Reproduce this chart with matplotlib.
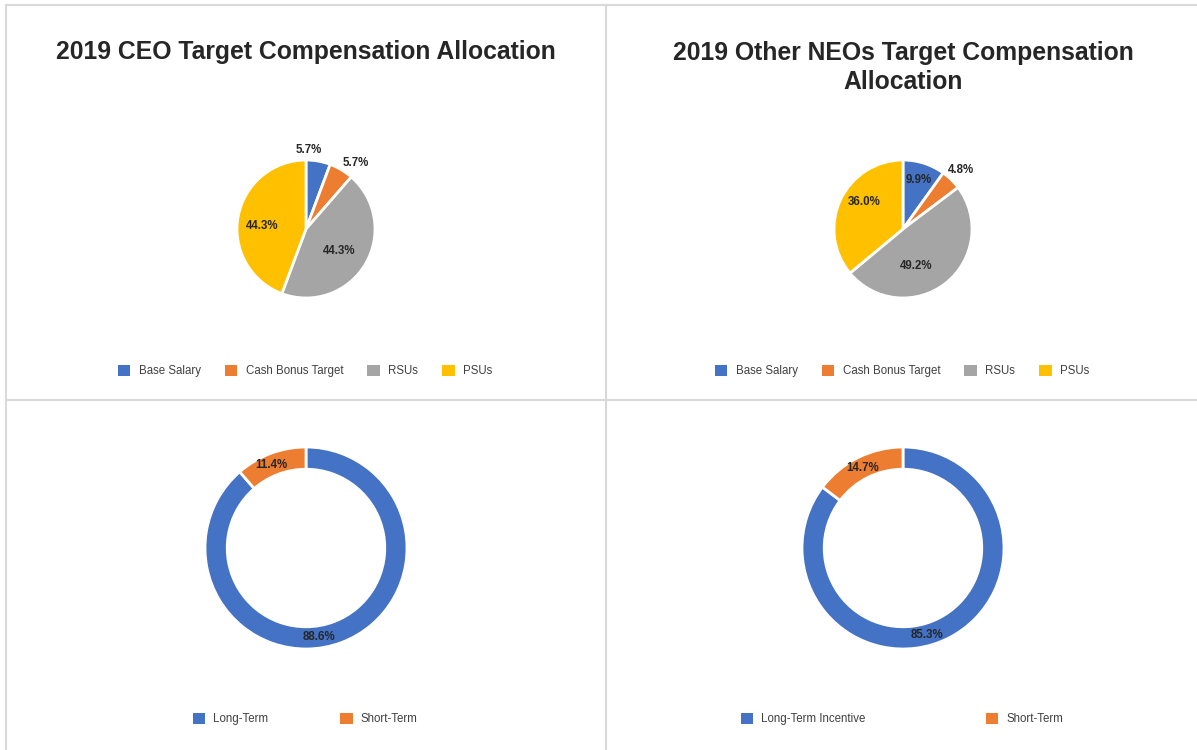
import matplotlib.pyplot as plt
import numpy as np
from matplotlib.patches import Patch
from matplotlib.lines import Line2D

plt.rcParams['font.family'] = ['Liberation Sans', 'DejaVu Sans']

# data
comp_labels = ["Base Salary", "Cash Bonus Target", "RSUs", "PSUs"]
ceo_comp = [5.7, 5.7, 44.3, 44.3]
neo_comp = [9.9, 4.8, 49.2, 36.0]
ceo_term_labels = ["Long-Term", "Short-Term"]
ceo_term = [88.6, 11.4]
neo_term_labels = ["Long-Term Incentive", "Short-Term"]
neo_term = [85.3, 14.7]

comp_colors = ["#4472C4", "#ED7D31", "#A5A5A5", "#FFC000"]
term_colors = ["#4472C4", "#ED7D31"]
text_color = "#262626"
grid_color = "#D9D9D9"

W, H = 1197, 750
fig = plt.figure(figsize=(W / 100, H / 100), dpi=100)


def add_circle_axes(cx, cy, r, half=130):
    ax = fig.add_axes([(cx - half) / W, 1 - (cy + half) / H, 2 * half / W, 2 * half / H])
    ax.axis('off')
    return ax, half / r


def draw_pie(ax, lim, values, colors, dists, shifts, width=None):
    wp = dict(edgecolor='white', linewidth=2)
    if width:
        wp['width'] = width
    wedges, _ = ax.pie(values, colors=colors, startangle=90, counterclock=False,
                       radius=1, wedgeprops=wp)
    for w, v, d, sh in zip(wedges, values, dists, shifts):
        ang = np.deg2rad((w.theta1 + w.theta2) / 2 + sh)
        ax.text(d * np.cos(ang), d * np.sin(ang), f"{v:.1f}%", ha='center', va='center',
                fontsize=8.3, fontweight='bold', color=text_color)
    ax.set_xlim(-lim, lim)
    ax.set_ylim(-lim, lim)
    ax.set_aspect('equal')


# pies
ax1, s1 = add_circle_axes(306, 229, 69)
draw_pie(ax1, s1, ceo_comp, comp_colors, [1.14, 1.2, 0.57, 0.64], [8, -6, -3, 6])

ax2, s2 = add_circle_axes(903, 229, 69)
draw_pie(ax2, s2, neo_comp, comp_colors, [0.75, 1.2, 0.57, 0.69], [0, 0, -19, -10])

# donuts
ax3, s3 = add_circle_axes(306, 548, 101, half=140)
draw_pie(ax3, s3, ceo_term, term_colors, [0.89, 0.89], [-12, 2], width=0.22)

ax4, s4 = add_circle_axes(903, 548, 101, half=140)
draw_pie(ax4, s4, neo_term, term_colors, [0.89, 0.89], [-11, 0], width=0.22)

# titles
fig.text(306 / W, 1 - 52 / H, "2019 CEO Target Compensation Allocation", ha='center', va='center',
         fontsize=17.8, fontweight='bold', color=text_color)
fig.text(903 / W, 1 - 67.5 / H, "2019 Other NEOs Target Compensation\nAllocation", ha='center',
         va='center', fontsize=17.8, fontweight='bold', color=text_color, linespacing=1.3)


# legends
def add_legend(cx, cy, labels, colors, colspace):
    handles = [Patch(facecolor=c, edgecolor='none') for c in colors]
    fig.legend(handles, labels, loc='center', bbox_to_anchor=(cx / W, 1 - cy / H), ncol=len(labels),
               frameon=False, fontsize=8.3, handlelength=1.1, handleheight=1.1, handletextpad=0.7,
               columnspacing=colspace, labelcolor='#404040', borderaxespad=0, borderpad=0)


add_legend(305, 371, comp_labels, comp_colors, 2.1)
add_legend(902, 371, comp_labels, comp_colors, 2.1)
add_legend(305, 719, ceo_term_labels, term_colors, 6.2)
add_legend(902, 719, neo_term_labels, term_colors, 10.4)

# panel borders
lw = 1.5
for xs, ys in [([6, W], [5, 5]), ([6, 6], [5, H]), ([606, 606], [5, H]), ([6, W], [400, 400])]:
    fig.add_artist(Line2D([x / W for x in xs], [1 - y / H for y in ys], color=grid_color,
                          linewidth=lw, transform=fig.transFigure))

fig.savefig("out.png", dpi=100, facecolor='white')
